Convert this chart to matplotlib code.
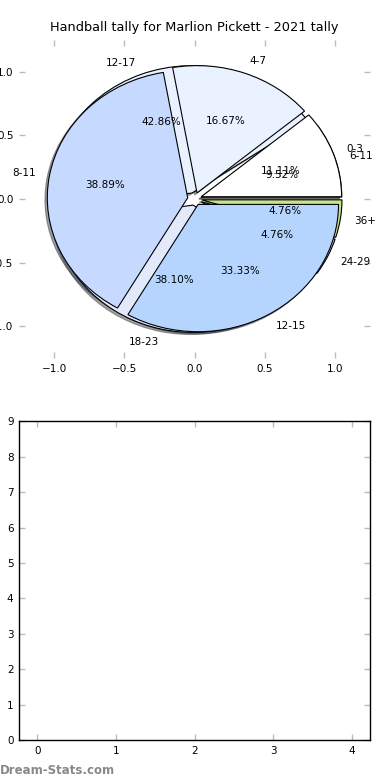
import numpy as np
import matplotlib
matplotlib.use('Agg')
import matplotlib.pyplot as plt

# two tallies drawn on the same axes
labels_a = ['0-3', '4-7', '8-11', '12-15']
counts_a = [2, 3, 7, 6]
colors_a = ['#ffffff', '#eaf2ff', '#c6d9ff', '#b5d5ff']

labels_b = ['6-11', '12-17', '18-23', '24-29', '36+']
counts_b = [2, 9, 8, 1, 1]
colors_b = ['#ffffff', '#eaf2ff', '#e2e9fb', '#b5d5ff', '#c8e38a']

bar_x = [0, 1, 2, 3, 4]
bar_h = [0, 0, 0, 0, 0]

title = 'Handball tally for Marlion Pickett - 2021 tally'

fig = plt.figure(figsize=(3.9, 7.8), dpi=100)
ax1 = fig.add_axes([0.049, 0.541, 0.9, 0.408])
ax2 = fig.add_axes([0.049, 0.051, 0.9, 0.409])

fs = 7.5
wp = dict(edgecolor='black', linewidth=0.8)
sh = dict(ox=-0.012, oy=-0.012)
ax1.pie(counts_b, labels=labels_b, colors=colors_b, explode=[0.05] * len(counts_b),
        autopct='%1.2f%%', shadow=sh, wedgeprops=wp,
        textprops=dict(fontsize=fs))
ax1.pie(counts_a, labels=labels_a, colors=colors_a, explode=[0.05] * len(counts_a),
        autopct='%1.2f%%', shadow=sh, wedgeprops=wp,
        textprops=dict(fontsize=fs))
ax1.set_aspect('auto')
ax1.set_xlim(-1.25, 1.25)
ax1.set_ylim(-1.25, 1.25)
ax1.set_xticks([-1.0, -0.5, 0.0, 0.5, 1.0])
ax1.set_yticks([-1.0, -0.5, 0.0, 0.5, 1.0])
ax1.set_title(title, fontsize=9.3, pad=6)

ax2.bar(bar_x, bar_h, width=0.8, color='#b5d5ff')
ax2.set_xlim(-0.23, 4.23)
ax2.set_ylim(0, 9)
ax2.set_xticks(range(5))
ax2.set_yticks(range(10))
for s in ax2.spines.values():
    s.set_linewidth(1.0)

for ax in (ax1, ax2):
    ax.tick_params(direction='in', length=4, width=1, color='#bbbbbb',
                   labelsize=fs, top=True, right=True, pad=4)

fig.text(0.0, 0.004, 'Dream-Stats.com', fontsize=8.5, color='#888888',
         ha='left', va='bottom', fontweight='semibold')

fig.savefig('out.png', dpi=100)
